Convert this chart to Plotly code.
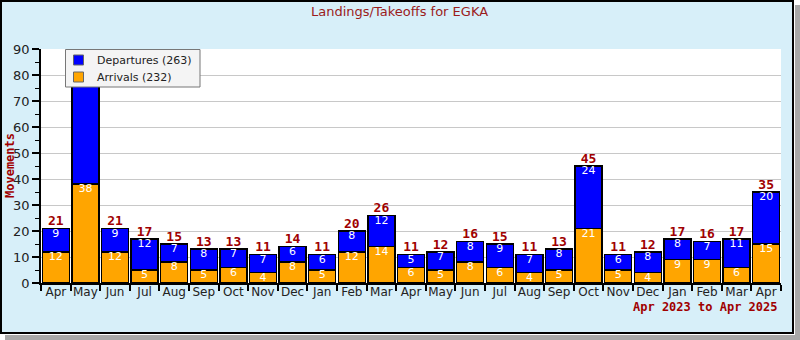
import plotly.graph_objects as go

# ---- data ----
months = ["Apr", "May", "Jun", "Jul", "Aug", "Sep", "Oct", "Nov", "Dec", "Jan", "Feb", "Mar",
          "Apr", "May", "Jun", "Jul", "Aug", "Sep", "Oct", "Nov", "Dec", "Jan", "Feb", "Mar", "Apr"]
arrivals = [12, 38, 12, 5, 8, 5, 6, 4, 8, 5, 12, 14,
            6, 5, 8, 6, 4, 5, 21, 5, 4, 9, 9, 6, 15]
departures = [9, 44, 9, 12, 7, 8, 7, 7, 6, 6, 8, 12,
              5, 7, 8, 9, 7, 8, 24, 6, 8, 8, 7, 11, 20]
period_label = "Apr 2023 to Apr 2025"
title_text = "Landings/Takeoffs for EGKA"

totals = [a + d for a, d in zip(arrivals, departures)]
xs = list(range(len(months)))

W, H = 800, 340
L, R, T, B = 41, 19, 49, 57
PW, PH = W - L - R, H - T - B


def px(x):
    return (x - L) / PW


def py(y):
    return (H - B - y) / PH


DARKRED = "#a00000"
BG = "#d7eff9"
BLUE = "#0000ff"
ORANGE = "#ffa500"

fig = go.Figure()
fig.add_trace(go.Bar(x=xs, y=arrivals, name=f"Arrivals ({sum(arrivals)})",
                     marker=dict(color=ORANGE, line=dict(color="black", width=1.5))))
fig.add_trace(go.Bar(x=xs, y=departures, name=f"Departures ({sum(departures)})",
                     marker=dict(color=BLUE, line=dict(color="black", width=1.5))))

# in-bar labels
fig.add_trace(go.Scatter(x=xs, y=arrivals, mode="text", text=[str(v) for v in arrivals],
                         textposition="bottom center", showlegend=False, hoverinfo="skip",
                         textfont=dict(family="DejaVu Sans", size=11, color="white")))
fig.add_trace(go.Scatter(x=xs, y=totals, mode="text", text=[str(v) for v in departures],
                         textposition="bottom center", showlegend=False, hoverinfo="skip",
                         textfont=dict(family="DejaVu Sans", size=11, color="white")))
fig.add_trace(go.Scatter(x=xs, y=totals, mode="text", text=[str(v) for v in totals],
                         textposition="top center", showlegend=False, hoverinfo="skip",
                         cliponaxis=False,
                         textfont=dict(family="DejaVu Sans Mono", size=13, color=DARKRED,
                                       weight="bold")))

shapes = [
    # shadow
    dict(type="rect", xref="paper", yref="paper", x0=px(795), x1=px(800), y0=py(340), y1=py(5),
         fillcolor="#a8a8a8", line=dict(width=0), layer="below"),
    dict(type="rect", xref="paper", yref="paper", x0=px(5), x1=px(800), y0=py(340), y1=py(335),
         fillcolor="#a8a8a8", line=dict(width=0), layer="below"),
    # panel
    dict(type="rect", xref="paper", yref="paper", x0=px(1), x1=px(793), y0=py(333), y1=py(1),
         fillcolor=BG, line=dict(color="black", width=2), layer="below"),
    # plot area
    dict(type="rect", xref="paper", yref="paper", x0=0, x1=1, y0=0, y1=1,
         fillcolor="white", line=dict(width=0), layer="below"),
    # legend box and keys
    dict(type="rect", xref="paper", yref="paper", x0=px(65.5), x1=px(200), y0=py(87), y1=py(49.5),
         fillcolor="#f4f4f4", line=dict(color="#777", width=1), layer="above"),
    dict(type="rect", xref="paper", yref="paper", x0=px(73.5), x1=px(83.5), y0=py(65), y1=py(55),
         fillcolor=BLUE, line=dict(color="#666", width=1), layer="above"),
    dict(type="rect", xref="paper", yref="paper", x0=px(73.5), x1=px(83.5), y0=py(82), y1=py(72),
         fillcolor=ORANGE, line=dict(color="#666", width=1), layer="above"),
]

annotations = [
    dict(text=title_text, xref="paper", yref="paper", x=px(399), y=py(12), showarrow=False,
         xanchor="center", yanchor="middle",
         font=dict(family="DejaVu Sans", size=13, color="#9b1c1c")),
    dict(text="Movements", xref="paper", yref="paper", x=px(10), y=py(166), showarrow=False,
         textangle=-90, xanchor="center", yanchor="middle",
         font=dict(family="DejaVu Sans Mono", size=12, color=DARKRED, weight="bold")),
    dict(text=period_label, xref="paper", yref="paper", x=px(780), y=py(307), showarrow=False,
         xanchor="right", yanchor="middle",
         font=dict(family="DejaVu Sans Mono", size=12, color=DARKRED, weight="bold")),
    dict(text=f"Departures ({sum(departures)})", xref="paper", yref="paper", x=px(95),
         y=py(60), showarrow=False, xanchor="left", yanchor="middle",
         font=dict(family="DejaVu Sans", size=11, color="#222")),
    dict(text=f"Arrivals ({sum(arrivals)})", xref="paper", yref="paper", x=px(95),
         y=py(77), showarrow=False, xanchor="left", yanchor="middle",
         font=dict(family="DejaVu Sans", size=11, color="#222")),
]

fig.update_layout(
    width=W, height=H,
    margin=dict(l=L, r=R, t=T, b=B, pad=0),
    paper_bgcolor="white",
    plot_bgcolor="white",
    barmode="stack",
    bargap=0.085,
    font=dict(family="DejaVu Sans", size=12, color="#222"),
    shapes=shapes,
    annotations=annotations,
    showlegend=False,
    xaxis=dict(range=[-0.5, len(months) - 0.5], tickmode="array", tickvals=xs, ticktext=months,
               ticks="", showgrid=False, zeroline=False, showline=True, linecolor="black",
               linewidth=1.5, ticklabelstandoff=-3,
               tickfont=dict(family="DejaVu Sans", size=12, color="#222"),
               minor=dict(tickmode="array", tickvals=[i - 0.5 for i in range(len(months) + 1)],
                          ticks="outside", ticklen=6, tickcolor="black", tickwidth=1.5,
                          showgrid=False)),
    yaxis=dict(range=[0, 90], dtick=10, tick0=0, ticks="outside", ticklen=7, tickwidth=1.5,
               tickcolor="black", showgrid=True, gridcolor="#c8c8c8", gridwidth=1,
               zeroline=False, showline=True, linecolor="black", linewidth=1.5,
               tickfont=dict(family="DejaVu Sans", size=13, color="#222"),
               minor=dict(dtick=5, ticks="outside", ticklen=4, tickcolor="black", tickwidth=1,
                          showgrid=False)),
)

fig.write_html("out.html", config={"displayModeBar": False})
